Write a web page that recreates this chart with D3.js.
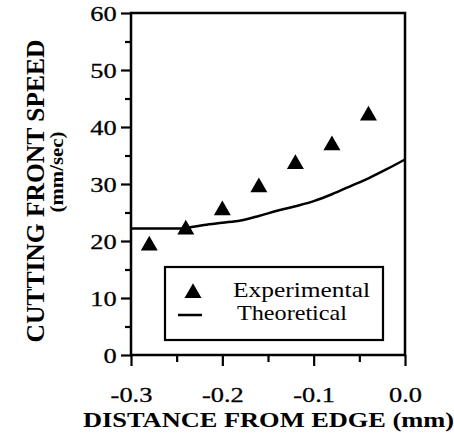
<!DOCTYPE html>
<html>
<head>
<meta charset="utf-8">
<script src="https://cdn.jsdelivr.net/npm/d3@7"></script>
<style>
  html, body { margin: 0; padding: 0; background: #fff; }
  svg { display: block; }
  text { font-family: "Liberation Serif", "Times New Roman", serif; fill: #000; }
</style>
</head>
<body>
<script>
// Distance from edge (mm) of each measurement
const expDistance = [-0.28, -0.24, -0.20, -0.16, -0.12, -0.08, -0.04];
// Measured cutting front speed (mm/sec)
const expSpeed = [19.2, 22.0, 25.4, 29.4, 33.5, 36.8, 42.0];

// Model curve
const theoDistance = [-0.30, -0.25, -0.24, -0.22, -0.20, -0.18, -0.16, -0.14, -0.12, -0.10, -0.08, -0.06, -0.04, -0.02, 0.0];
const theoSpeed    = [22.2, 22.2, 22.3, 22.8, 23.2, 23.6, 24.4, 25.3, 26.1, 27.0, 28.2, 29.6, 31.0, 32.6, 34.3];

const xTicks = [-0.3, -0.2, -0.1, 0.0];
const xTickLabels = ["-0.3", "-0.2", "-0.1", "0.0"];
const xMinorTicks = [-0.25, -0.15, -0.05];
const yTicks = [0, 10, 20, 30, 40, 50, 60];
const yMinorTicks = [5, 15, 25, 35, 45, 55];

const legendLabels = ["Experimental", "Theoretical"];
const xTitle = "DISTANCE FROM EDGE (mm)";
const yTitle = "CUTTING FRONT SPEED";
const yUnits = "(mm/sec)";

const W = 454, H = 442;
const plot = { left: 131, right: 405, top: 13, bottom: 355 };
const serif = "'Liberation Serif', 'Times New Roman', serif";

const svg = d3.select("body").append("svg")
  .attr("width", W).attr("height", H);

const x = d3.scaleLinear().domain([-0.3, 0.0]).range([plot.left, plot.right]);
const y = d3.scaleLinear().domain([0, 60]).range([plot.bottom, plot.top]);

// Frame
svg.append("rect")
  .attr("x", plot.left).attr("y", plot.top)
  .attr("width", plot.right - plot.left).attr("height", plot.bottom - plot.top)
  .attr("fill", "none").attr("stroke", "#000").attr("stroke-width", 2.5);

// Y axis: major + minor ticks
svg.append("g").attr("transform", `translate(${plot.left},0)`)
  .call(d3.axisLeft(y).tickValues(yTicks).tickSize(10).tickPadding(2).tickFormat(d3.format("d")));
svg.append("g").attr("transform", `translate(${plot.left},0)`)
  .call(d3.axisLeft(y).tickValues(yMinorTicks).tickSize(6).tickFormat(""));

// X axis: major + minor ticks
svg.append("g").attr("transform", `translate(0,${plot.bottom})`)
  .call(d3.axisBottom(x).tickValues(xTicks).tickSize(11).tickPadding(20)
    .tickFormat((d, i) => xTickLabels[i]));
svg.append("g").attr("transform", `translate(0,${plot.bottom})`)
  .call(d3.axisBottom(x).tickValues(xMinorTicks).tickSize(7).tickFormat(""));

svg.selectAll("g").attr("font-family", serif);
svg.selectAll(".domain").remove();
svg.selectAll(".tick line").attr("stroke", "#000").attr("stroke-width", 2.2);
svg.selectAll(".tick text")
  .style("font-family", serif)
  .style("font-size", "22px")
  .attr("fill", "#000")
  .attr("stroke", "#000").attr("stroke-width", 0.3)
  .attr("transform", "scale(1.2,1)");

// Theoretical curve
const line = d3.line().x(d => x(d[0])).y(d => y(d[1])).curve(d3.curveMonotoneX);
svg.append("path")
  .datum(theoDistance.map((d, i) => [d, theoSpeed[i]]))
  .attr("d", line)
  .attr("fill", "none").attr("stroke", "#000").attr("stroke-width", 2.5);

// Experimental triangles
const tri = d3.symbol().type(d3.symbolTriangle).size(125);
svg.append("g").selectAll("path")
  .data(expDistance.map((d, i) => [d, expSpeed[i]]))
  .join("path")
  .attr("d", tri)
  .attr("transform", d => `translate(${x(d[0])},${y(d[1])})`)
  .attr("fill", "#000");

// Legend
const lg = svg.append("g");
lg.append("rect")
  .attr("x", 165).attr("y", 267).attr("width", 218).attr("height", 73)
  .attr("fill", "#fff").attr("stroke", "#000").attr("stroke-width", 2.2);
lg.append("path").attr("d", tri).attr("transform", "translate(193,293)").attr("fill", "#000");
lg.append("line").attr("x1", 178).attr("x2", 202).attr("y1", 315).attr("y2", 315)
  .attr("stroke", "#000").attr("stroke-width", 2.5);
lg.append("text").attr("x", 233).attr("y", 297)
  .attr("textLength", 137).attr("lengthAdjust", "spacingAndGlyphs")
  .style("font-family", serif).style("font-size", "22px").text(legendLabels[0]);
lg.append("text").attr("x", 237).attr("y", 320)
  .attr("textLength", 110).attr("lengthAdjust", "spacingAndGlyphs")
  .style("font-family", serif).style("font-size", "22px").text(legendLabels[1]);

// Axis titles
svg.append("text")
  .attr("x", 83).attr("y", 427)
  .attr("textLength", 371).attr("lengthAdjust", "spacingAndGlyphs")
  .style("font-family", serif).style("font-size", "20px").style("font-weight", "bold")
  .text(xTitle);

svg.append("text")
  .attr("transform", "translate(44,191) rotate(-90)")
  .attr("text-anchor", "middle")
  .attr("textLength", 303).attr("lengthAdjust", "spacingAndGlyphs")
  .style("font-family", serif).style("font-size", "25px").style("font-weight", "bold")
  .text(yTitle);

svg.append("text")
  .attr("transform", "translate(63,172) rotate(-90)")
  .attr("text-anchor", "middle")
  .attr("textLength", 81).attr("lengthAdjust", "spacingAndGlyphs")
  .style("font-family", serif).style("font-size", "19px").style("font-weight", "bold")
  .text(yUnits);
</script>
</body>
</html>
